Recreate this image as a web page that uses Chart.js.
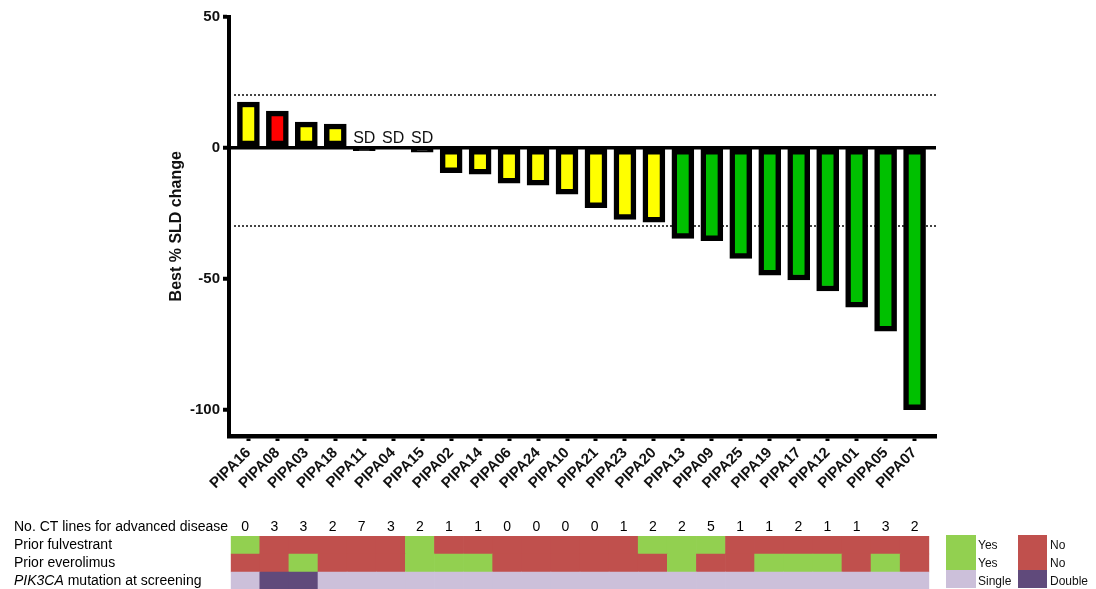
<!DOCTYPE html>
<html>
<head>
<meta charset="utf-8">
<script src="https://cdn.jsdelivr.net/npm/chart.js@4/dist/chart.umd.min.js"></script>
<style>
  html, body { margin: 0; padding: 0; background: #fff; overflow: hidden; }
  #waterfall { position: absolute; left: 0; top: 0; }
  #heatmap { position: absolute; left: 0; top: 500px; }
  .swatch { position: absolute; }
  .key-text { position: absolute; font: 12px "Liberation Sans", Arial, sans-serif; color: #111; line-height: 18px; }
</style>
</head>
<body>
<canvas id="waterfall" width="1096" height="500"></canvas>
<canvas id="heatmap" width="1096" height="90"></canvas>

<div class="swatch" style="left:946px;top:535px;width:30px;height:35px;background:#92d050"></div>
<div class="swatch" style="left:1018px;top:535px;width:29px;height:35px;background:#c0504d"></div>
<div class="swatch" style="left:946px;top:570px;width:30px;height:18px;background:#ccc0da"></div>
<div class="swatch" style="left:1018px;top:570px;width:29px;height:18px;background:#604a7b"></div>
<div class="key-text" style="left:978px;top:536px">Yes</div>
<div class="key-text" style="left:978px;top:554px">Yes</div>
<div class="key-text" style="left:978px;top:572px">Single</div>
<div class="key-text" style="left:1050px;top:536px">No</div>
<div class="key-text" style="left:1050px;top:554px">No</div>
<div class="key-text" style="left:1050px;top:572px">Double</div>

<script>
// patients, ordered by best change in sum of longest diameters
const patients = ['PIPA16', 'PIPA08', 'PIPA03', 'PIPA18', 'PIPA11', 'PIPA04', 'PIPA15', 'PIPA02',
  'PIPA14', 'PIPA06', 'PIPA24', 'PIPA10', 'PIPA21', 'PIPA23', 'PIPA20', 'PIPA13',
  'PIPA09', 'PIPA25', 'PIPA19', 'PIPA17', 'PIPA12', 'PIPA01', 'PIPA05', 'PIPA07'];
const bestChange = [17.4, 13.9, 9.7, 9.0, -1.2, 0, -1.7, -9.6,
  -10.1, -13.6, -14.3, -17.8, -22.9, -27.4, -28.4, -34.6,
  -35.5, -42.3, -48.7, -50.5, -54.7, -60.9, -70, -100];
const response = ['SD', 'PD', 'SD', 'SD', 'SD', 'SD', 'SD', 'SD',
  'SD', 'SD', 'SD', 'SD', 'SD', 'SD', 'SD', 'PR',
  'PR', 'PR', 'PR', 'PR', 'PR', 'PR', 'PR', 'PR'];
const barNotes = ['', '', '', '', 'SD', 'SD', 'SD', '', '', '', '', '', '', '', '', '', '', '', '', '', '', '', '', ''];
const yTicks = [50, 0, -50, -100];
const referenceLines = [20, -30];

// per-patient table under the waterfall
const ctLines = [0, 3, 3, 2, 7, 3, 2, 1, 1, 0, 0, 0, 0, 1, 2, 2, 5, 1, 1, 2, 1, 1, 3, 2];
const priorFulvestrant = ['Yes', 'No', 'No', 'No', 'No', 'No', 'Yes', 'No', 'No', 'No', 'No', 'No',
  'No', 'No', 'Yes', 'Yes', 'Yes', 'No', 'No', 'No', 'No', 'No', 'No', 'No'];
const priorEverolimus = ['No', 'No', 'Yes', 'No', 'No', 'No', 'Yes', 'Yes', 'Yes', 'No', 'No', 'No',
  'No', 'No', 'No', 'Yes', 'No', 'No', 'Yes', 'Yes', 'Yes', 'No', 'Yes', 'No'];
const pik3ca = ['Single', 'Double', 'Double', 'Single', 'Single', 'Single', 'Single', 'Single', 'Single', 'Single', 'Single', 'Single',
  'Single', 'Single', 'Single', 'Single', 'Single', 'Single', 'Single', 'Single', 'Single', 'Single', 'Single', 'Single'];

const responseColours = { PD: '#ff0000', SD: '#ffff00', PR: '#00c000' };
const cellColours = { Yes: '#92d050', No: '#c0504d', Single: '#ccc0da', Double: '#604a7b' };
const baseFont = '"Liberation Sans", Arial, sans-serif';
const barBorder = 5.5;

// bars flatter than their outline are drawn solid black
function barFill(c) {
  const v = bestChange[c.dataIndex];
  if (Math.abs(v) < 3) return '#000';
  return responseColours[response[c.dataIndex]];
}

const waterfallDecor = {
  id: 'waterfallDecor',
  beforeDatasetsDraw(chart) {
    const { ctx, chartArea, scales: { y } } = chart;
    ctx.save();
    ctx.strokeStyle = '#444';
    ctx.lineWidth = 2;
    ctx.setLineDash([2, 2]);
    referenceLines.forEach((v) => {
      const py = Math.round(y.getPixelForValue(v));
      ctx.beginPath();
      ctx.moveTo(chartArea.left + 5, py);
      ctx.lineTo(chartArea.right, py);
      ctx.stroke();
    });
    ctx.restore();
  },
  afterDatasetsDraw(chart) {
    const { ctx, scales: { x, y } } = chart;
    ctx.save();
    ctx.font = `16px ${baseFont}`;
    ctx.fillStyle = '#111';
    ctx.textAlign = 'center';
    ctx.textBaseline = 'alphabetic';
    barNotes.forEach((note, i) => {
      if (note) ctx.fillText(note, x.getPixelForValue(i), y.getPixelForValue(0) - 5);
    });
    ctx.restore();
  },
};

new Chart(document.querySelector('#waterfall'), {
  type: 'bar',
  data: {
    datasets: [{
      data: bestChange.map((v, i) => ({ x: i, y: v })),
      backgroundColor: barFill,
      borderColor: '#000',
      borderWidth: barBorder,
      borderSkipped: false,
      barThickness: 22,
    }],
  },
  options: {
    responsive: false,
    animation: false,
    devicePixelRatio: 1,
    layout: { padding: { top: 16.5, right: 160, bottom: 0, left: 0 } },
    plugins: { legend: { display: false }, tooltip: { enabled: false } },
    scales: {
      x: {
        type: 'linear',
        min: -0.67,
        max: 23.74,
        offset: false,
        afterBuildTicks: (scale) => { scale.ticks = patients.map((_, i) => ({ value: i })); },
        afterFit: (scale) => { scale.height = 64; },
        border: { display: true, color: '#000', width: 4.5 },
        grid: { offset: false, drawOnChartArea: false, drawTicks: true, tickLength: 5, tickWidth: 4, tickColor: '#000' },
        ticks: {
          autoSkip: false,
          minRotation: 45,
          maxRotation: 45,
          padding: 3,
          color: '#111',
          font: { family: baseFont, size: 15, weight: 'bold' },
          callback: (value) => patients[value],
        },
      },
      y: {
        min: -110,
        max: 50,
        afterBuildTicks: (scale) => { scale.ticks = yTicks.map((v) => ({ value: v })); },
        afterFit: (scale) => { scale.width = 229; },
        border: { display: true, color: '#000', width: 4 },
        grid: {
          drawTicks: true,
          tickLength: 6,
          tickWidth: 4,
          tickColor: '#000',
          lineWidth: 3.5,
          color: (c) => (c.tick && c.tick.value === 0 ? '#000' : 'rgba(0,0,0,0)'),
        },
        ticks: { padding: 3, color: '#111', font: { family: baseFont, size: 15, weight: 'bold' } },
        title: {
          display: true,
          text: 'Best % SLD change',
          color: '#111',
          font: { family: baseFont, size: 16, weight: 'bold' },
          padding: { top: 167, bottom: 0 },
        },
      },
    },
  },
  plugins: [waterfallDecor],
});

// table rows: label text pieces (italic flag) and the row's centre on the stacked scale
const ctLabel = 'No. CT lines for advanced disease';
const rowLabels = [
  { centre: 2.5, parts: [['Prior fulvestrant', false]] },
  { centre: 1.5, parts: [['Prior everolimus', false]] },
  { centre: 0.5, parts: [['PIK3CA', true], [' mutation at screening', false]] },
];

const tableText = {
  id: 'tableText',
  afterDraw(chart) {
    const { ctx, chartArea, scales: { x, y } } = chart;
    ctx.save();
    ctx.fillStyle = '#000';
    ctx.textBaseline = 'middle';
    ctx.font = `14px ${baseFont}`;
    const ctY = chartArea.top - 9;
    ctx.textAlign = 'center';
    ctLines.forEach((n, i) => ctx.fillText(String(n), x.getPixelForValue(i), ctY));
    ctx.textAlign = 'left';
    ctx.fillText(ctLabel, 14, ctY);
    rowLabels.forEach((row) => {
      let px = 14;
      const py = y.getPixelForValue(row.centre);
      row.parts.forEach(([text, italic]) => {
        ctx.font = `${italic ? 'italic ' : ''}14px ${baseFont}`;
        ctx.fillText(text, px, py);
        px += ctx.measureText(text).width;
      });
    });
    ctx.restore();
  },
};

new Chart(document.querySelector('#heatmap'), {
  type: 'bar',
  data: {
    labels: patients,
    datasets: [pik3ca, priorEverolimus, priorFulvestrant].map((row) => ({
      data: row.map(() => 1),
      backgroundColor: row.map((v) => cellColours[v]),
      borderWidth: 0,
      barPercentage: 1,
      categoryPercentage: 1,
    })),
  },
  options: {
    responsive: false,
    animation: false,
    devicePixelRatio: 1,
    layout: { padding: { top: 36, right: 166.7, bottom: 0, left: 230.7 } },
    plugins: { legend: { display: false }, tooltip: { enabled: false } },
    scales: {
      x: { display: false, stacked: true },
      y: { display: false, stacked: true, min: 0, max: 3 },
    },
  },
  plugins: [tableText],
});
</script>
</body>
</html>
